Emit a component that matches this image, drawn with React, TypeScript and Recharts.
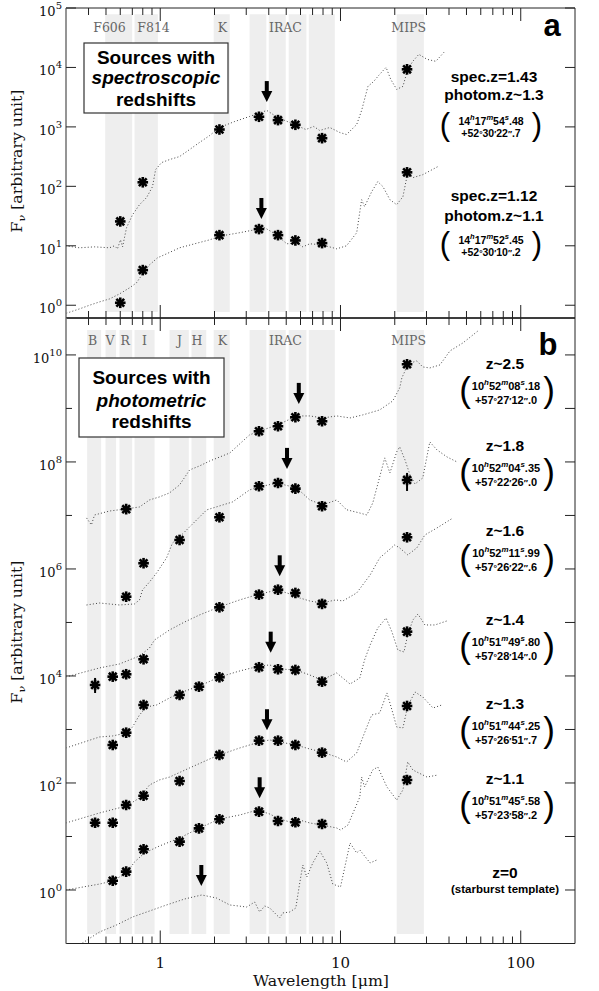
import React from "react";
import { ComposedChart, Line, Scatter, XAxis, YAxis, ReferenceArea, ErrorBar } from "recharts";

// ---------------- axis ticks ----------------
const wavelengthTicks = [0.4, 0.5, 0.6, 0.7, 0.8, 0.9, 1, 2, 3, 4, 5, 6, 7, 8, 9, 10, 20, 30, 40, 50, 60, 70, 80, 90, 100];
const wavelengthMajor = [1, 10, 100];
const fluxTicksA = [1, 10, 100, 1e3, 1e4, 1e5];
const fluxTicksB = [1, 10, 100, 1e3, 1e4, 1e5, 1e6, 1e7, 1e8, 1e9, 1e10];

// ---------------- filter bands (micron) ----------------
const bandsA = [[0.495, 0.699], [0.72, 0.97], [1.98, 2.43], [3.13, 3.88], [4.0, 4.97], [5.16, 6.47], [6.67, 9.3], [20.5, 29]];
const bandsB = [[0.393, 0.47], [0.497, 0.569], [0.594, 0.699], [0.72, 0.93], [1.126, 1.44], [1.49, 1.8], [1.98, 2.43], [3.13, 3.88], [4.0, 4.97], [5.16, 6.47], [6.67, 9.3], [20.5, 29]];
const bandNamesA = ["F606", "F814", "K", "IRAC", "MIPS"];
const bandNameXA = [0.523, 0.918, 2.21, 4.95, 23.9];
const bandNamesB = ["B", "V", "R", "I", "J", "H", "K", "IRAC", "MIPS"];
const bandNameXB = [0.422, 0.526, 0.639, 0.818, 1.28, 1.6, 2.21, 4.95, 23.9];

// ---------------- panel a : spectroscopic redshifts ----------------
const specHighCurve = [[0.298,10.0],[0.356,9.25],[0.432,9.6],[0.523,9.25],[0.557,10.0],[0.579,8.9],[0.602,12.6],[0.618,9.6],[0.65,20.1],[0.702,33.3],[0.767,49.1],[0.839,64.5],[0.906,98.9],[0.942,191],[1.017,251],[1.126,282],[1.28,317],[1.455,416],[1.65,546],[1.88,716],[2.13,977],[2.59,1233],[3.13,1497],[3.9,1891],[4.31,1556],[4.91,1282],[5.72,1056],[6.42,904],[7.11,1016],[7.67,870],[8.72,977],[9.91,805],[10.8,744],[12.3,1097],[13.1,1891],[14.2,4800],[15.3,5830],[16.3,7360],[17.9,10040],[19.0,6300],[20.5,4280],[22.2,4800],[23.6,9290],[25.2,12680],[27.2,16630],[30.2,13700],[33.8,12680],[37.5,17980]];
const specLowCurve = [[0.301,0.733],[0.356,0.867],[0.405,1.0],[0.46,1.137],[0.523,1.277],[0.594,1.55],[0.675,1.96],[0.738,2.38],[0.798,3.37],[0.872,4.78],[0.966,6.28],[1.084,7.33],[1.28,9.25],[1.55,10.8],[1.88,12.6],[2.19,14.7],[2.76,16.6],[3.34,18.6],[3.8,20.1],[4.43,15.3],[5.03,10.8],[5.72,11.2],[6.18,9.6],[6.75,10.8],[7.87,10.4],[9.53,8.9],[10.8,10],[12.3,16.6],[13.1,59.7],[13.6,45.5],[14.9,81.4],[16.1,120],[17.2,98.9],[18.8,59.7],[20.5,49.1],[22.2,67],[23.6,170],[25.2,140],[28.6,157],[34.7,215]];
const specHighPhot = [[0.6,25.7],[0.8,117],[2.13,904],[3.53,1480],[4.5,1300],[5.62,1085],[7.9,646],[23.4,9300]];
const specLowPhot = [[0.6,1.1],[0.8,3.9],[2.13,15.1],[3.53,19.1],[4.5,15.1],[5.62,12.3],[7.9,11.1],[23.4,172]];
const specArrows = [[3.9,5900],[3.64,63.7]];

// ---------------- panel b : photometric redshifts ----------------
const z25Curve = [[0.39,8.98e6],[0.415,6.64e6],[0.432,1.02e7],[0.523,1.21e7],[0.641,1.32e7],[0.767,1.44e7],[0.872,1.95e7],[0.99,2.22e7],[1.126,2.64e7],[1.28,3.72e7],[1.455,7.08e7],[1.65,8.41e7],[1.88,1.04e8],[2.43,1.47e8],[3.13,3.2e8],[3.56,3.79e8],[4.48,4.92e8],[5.72,7.24e8],[6.75,7.24e8],[7.98,6.64e8],[9.53,7.24e8],[11.3,6.64e8],[13.3,7.57e8],[16.5,9.38e8],[19.5,1.38e9],[21.3,2.42e9],[21.9,3.72e9],[22.8,5.02e9],[23.6,6.79e9],[26.5,7.73e9],[28.6,5.97e9],[31.3,5.71e9],[35.6,6.5e9],[40.5,1.19e10],[47.8,1.68e10],[57.9,2.81e10]];
const z18Curve = [[0.39,2.12e5],[0.46,2.31e5],[0.594,2.12e5],[0.72,2.22e5],[0.767,2.64e5],[0.797,4.05e5],[0.872,5.71e5],[0.954,8.41e5],[1.084,1.61e6],[1.169,3.06e6],[1.28,3.96e6],[1.4,5.36e6],[1.81,1.27e7],[2.52,1.79e7],[3.13,3.0e7],[3.56,3.41e7],[4.43,4.05e7],[5.72,3.27e7],[6.75,1.95e7],[7.98,1.57e7],[9.53,1.95e7],[10.8,1.28e7],[12.8,1.11e7],[14.0,1.02e7],[15.1,1.71e7],[16.5,5.25e7],[17.6,1.19e8],[18.8,6.23e7],[20.5,1.54e8],[21.3,1.91e8],[22.8,1.09e8],[24.3,5.71e7],[25.9,3.88e7],[28.6,5.02e7],[31.3,2.37e8],[34.3,1.68e8],[39.0,1.24e8],[44.3,1.0e8]];
const z16Curve = [[0.3,9570],[0.38,11880],[0.46,14120],[0.594,16760],[0.767,23650],[0.872,33360],[0.93,47100],[1.126,72400],[1.365,1.02e5],[1.65,1.38e5],[2.13,1.95e5],[2.76,2.64e5],[3.56,3.41e5],[4.49,4.05e5],[5.23,3.41e5],[5.94,2.87e5],[6.75,2.52e5],[7.87,2.31e5],[9.41,2.64e5],[10.3,2.52e5],[12.3,3.56e5],[14.6,7.73e5],[16.5,1.61e6],[18.3,2.17e6],[20.0,2.81e6],[21.3,2.47e6],[23.6,1.83e6],[26.5,2.47e6],[29.4,4.32e6],[34.3,5.84e6],[42.1,8.98e6]];
const z14Curve = [[0.3,451],[0.46,724],[0.543,756],[0.65,860],[0.702,1114],[0.767,1866],[0.839,2634],[0.954,2870],[1.126,3880],[1.28,4810],[1.65,6500],[2.13,9570],[2.76,12400],[3.56,15380],[4.05,16070],[4.6,13520],[5.65,12950],[6.75,10440],[7.87,8410],[9.53,11380],[11.3,7080],[12.8,9180],[13.6,19910],[14.6,37950],[16.1,78900],[17.9,1.21e5],[19.3,66400],[20.8,30620],[22.5,28100],[23.6,58400],[25.2,1.11e5],[26.9,1.44e5],[29.4,89800],[33.4,89800],[39.0,1.07e5]];
const z13Curve = [[0.3,17.9],[0.46,27.5],[0.65,37.2],[0.767,52.5],[0.872,91.8],[0.99,114],[1.126,129],[1.455,191],[1.88,281],[2.13,334],[2.76,451],[3.56,584],[4.05,637],[4.6,584],[5.65,513],[6.75,432],[7.87,380],[9.53,306],[10.8,247],[12.3,364],[14.0,1114],[14.9,1866],[16.5,2034],[18.1,4810],[19.3,2314],[20.5,1114],[22.2,1067],[23.6,2750],[25.9,5020],[28.6,4050],[32.6,2520],[36.5,2870]];
const z11Curve = [[0.3,1.0],[0.46,1.29],[0.543,1.47],[0.65,2.08],[0.72,3.34],[0.818,4.92],[0.99,6.64],[1.28,9.38],[1.65,14.4],[2.13,21.2],[2.76,25.2],[3.47,31.3],[4.05,26.3],[4.6,21.2],[5.23,18.7],[5.94,20.3],[6.75,17.9],[7.87,16.4],[9.53,14.4],[10.0,13.2],[11.0,16.4],[12.8,54.7],[13.1,129],[13.6,84.2],[15.1,175],[16.1,199],[18.1,84.2],[20.5,48.1],[22.2,74.0],[23.6,247],[25.2,175],[30.2,129],[34.7,141]];
const z0Curve = [[0.37,0.102],[0.46,0.164],[0.572,0.222],[0.702,0.313],[0.872,0.405],[1.084,0.525],[1.365,0.679],[1.7,0.807],[2.05,0.708],[2.43,0.525],[3.02,0.481],[3.34,0.597],[3.56,0.388],[3.8,0.502],[4.05,0.461],[4.6,0.3],[4.78,0.372],[5.23,0.388],[5.65,0.461],[5.94,1.35],[6.18,2.93],[6.5,1.75],[7.02,3.2],[7.67,5.36],[8.39,3.2],[9.06,1.29],[10.0,1.14],[11.3,7.56],[12.3,4.92],[12.8,5.59],[14.6,3.2],[15.9,3.64]];

const z25Phot = [[0.647,1.31e7],[3.53,3.75e8],[4.5,4.65e8],[5.62,6.84e8],[7.9,5.77e8],[23.4,6.7e9]];
const z18Phot = [[0.647,3.03e5],[0.808,1.28e6],[1.28,3.48e6],[2.13,9.25e6],[3.53,3.51e7],[4.5,4.05e7],[5.62,3.17e7],[7.9,1.49e7]];
const z16Phot = [[0.545,9710],[0.647,10770],[0.808,20500],[2.13,1.92e5],[3.53,3.31e5],[4.5,4.1e5],[5.62,3.56e5],[7.9,2.22e5],[23.4,3.91e6]];
const z14Phot = [[0.545,513],[0.647,871],[0.808,2870],[1.28,4415],[1.64,6310],[2.13,9460],[3.53,14550],[4.5,13340],[5.62,12950],[7.9,7830],[23.4,67300]];
const z13Phot = [[0.435,18.1],[0.545,18.1],[0.647,38.8],[0.808,57.9],[1.28,109],[2.13,334],[3.53,618],[4.5,618],[5.62,513],[7.9,369],[23.4,2750]];
const z11Phot = [[0.545,1.49],[0.647,2.2],[0.808,5.76],[1.28,8.0],[1.64,14.2],[2.13,21.0],[3.53,29.1],[4.5,19.5],[5.62,18.4],[7.9,17.1],[23.4,114]];
// points with error bars: [wavelength, flux, minus, plus]
const photWithErr = [[23.4,4.61e7,1.74e7,1.62e7],[0.435,6790,1980,2390]];
const photArrows = [[5.87,3.0e9],[5.05,1.83e8],[4.6,1.8e6],[4.1,67300],[3.91,2390],[3.56,128],[1.69,2.93]];

// ---------------- text annotations ----------------
const specTitles = [["spec.z=1.43", "photom.z~1.3"], ["spec.z=1.12", "photom.z~1.1"]];
const specRA = [["14", "17", "54", "48"], ["14", "17", "52", "45"]];
const specDec = [["+52", "30", "22", "7"], ["+52", "30", "10", "2"]];
const photTitles = ["z~2.5", "z~1.8", "z~1.6", "z~1.4", "z~1.3", "z~1.1"];
const photRA = [["10","52","08","18"],["10","52","04","35"],["10","52","11","99"],["10","51","49","80"],["10","51","44","25"],["10","51","45","58"]];
const photDec = [["+57","27","12","0"],["+57","22","26","0"],["+57","26","22","6"],["+57","28","14","0"],["+57","26","51","7"],["+57","23","58","2"]];

// ---------------- layout (pixels) ----------------
const W = 599;
const SANS = "'Liberation Sans', Arial, Helvetica, sans-serif";
const SERIF = "'DejaVu Serif', serif";
const specBlockY = [76, 195];
const photBlockY = [363.3, 445, 530.5, 619, 703.3, 778.3];

const toPts = (a: number[][]) => a.map(([x, y]) => ({ x, y }));

const StarShape = (p: any) => {
  const { cx, cy } = p;
  if (!Number.isFinite(cx) || !Number.isFinite(cy)) return <g />;
  const r = 5.3, d = 3.9;
  return (
    <g stroke="#000" strokeWidth={2.6}>
      <line x1={cx - r} y1={cy} x2={cx + r} y2={cy} />
      <line x1={cx} y1={cy - r} x2={cx} y2={cy + r} />
      <line x1={cx - d} y1={cy - d} x2={cx + d} y2={cy + d} />
      <line x1={cx - d} y1={cy + d} x2={cx + d} y2={cy - d} />
    </g>
  );
};

const ArrowShape = (p: any) => {
  const { cx, cy } = p;
  if (!Number.isFinite(cx) || !Number.isFinite(cy)) return <g />;
  return (
    <g fill="#000">
      <rect x={cx - 2} y={cy} width={4} height={11} />
      <polygon points={`${cx - 5.5},${cy + 10} ${cx + 5.5},${cy + 10} ${cx},${cy + 21}`} />
    </g>
  );
};

const LabelShape = (p: any) => {
  const { cx, cy, payload } = p;
  if (!Number.isFinite(cx) || !Number.isFinite(cy)) return <g />;
  return (
    <text x={cx} y={cy} textAnchor="middle" dominantBaseline="central" fontFamily={SERIF} fontSize={12.5} fill="#666">
      {payload.label}
    </text>
  );
};

const mkXTick = (dir: number, showLabel: boolean) => (props: any) => {
  const { x, y, payload } = props;
  const v = payload.value;
  const major = wavelengthMajor.includes(v);
  const len = major ? 13 : 7;
  return (
    <g>
      <line x1={x} x2={x} y1={y} y2={y + dir * len} stroke="#222" strokeWidth={1} />
      {showLabel && major ? (
        <text x={x} y={y + 24.5} textAnchor="middle" fontFamily={SERIF} fontSize={15} fill="#111">{v}</text>
      ) : null}
    </g>
  );
};

const mkYTickLeft = (every: number) => (props: any) => {
  const { x, y, payload } = props;
  const e = Math.round(Math.log10(payload.value));
  const lab = e % every === 0;
  const len = lab ? 10 : 6;
  return (
    <g>
      <line x1={x} x2={x + len} y1={y} y2={y} stroke="#222" strokeWidth={1} />
      {lab ? (
        <text x={x - 4} y={y + 8} textAnchor="end" fontFamily={SERIF} fontSize={13} fill="#111">
          10<tspan fontSize={10} dy={-7}>{e}</tspan>
        </text>
      ) : null}
    </g>
  );
};

const YTickRight = (props: any) => {
  const { x, y } = props;
  return <line x1={x} x2={x - 10} y1={y} y2={y} stroke="#222" strokeWidth={1} />;
};

function Panel(props: any) {
  const { height, margin, yDomain, yTicks, every, bands, bandY, names, nameX, nameY, curves, phots, errPts, arrows, showXLabels } = props;
  const labelData = names.map((n: string, i: number) => ({ x: nameX[i], y: nameY, label: n }));
  return (
    <ComposedChart width={W} height={height} margin={margin}>
      <XAxis xAxisId="b" type="number" dataKey="x" scale="log" domain={[0.3, 200]} allowDataOverflow ticks={wavelengthTicks} interval={0}
        height={1} tickSize={0} tickMargin={0} tickLine={false} orientation="bottom" axisLine={{ stroke: "#222" }} tick={mkXTick(-1, showXLabels)} />
      <XAxis xAxisId="t" type="number" dataKey="x" scale="log" domain={[0.3, 200]} allowDataOverflow ticks={wavelengthTicks} interval={0}
        height={1} tickSize={0} tickMargin={0} tickLine={false} orientation="top" axisLine={false} tick={mkXTick(1, false)} />
      <YAxis yAxisId="l" type="number" dataKey="y" scale="log" domain={yDomain} allowDataOverflow ticks={yTicks} interval={0}
        width={1} tickSize={0} tickMargin={0} tickLine={false} orientation="left" axisLine={{ stroke: "#999" }} tick={mkYTickLeft(every)} />
      <YAxis yAxisId="r" type="number" dataKey="y" scale="log" domain={yDomain} allowDataOverflow ticks={yTicks} interval={0}
        width={1} tickSize={0} tickMargin={0} tickLine={false} orientation="right" axisLine={false} tick={YTickRight} />
      {bands.map((b: number[], i: number) => (
        <ReferenceArea key={"band" + i} xAxisId="b" yAxisId="l" x1={b[0]} x2={b[1]} y1={bandY[0]} y2={bandY[1]} fill="#eeeeee" fillOpacity={1} stroke="none" />
      ))}
      {/* frame: top and right edges of the panel */}
      <ReferenceArea xAxisId="b" yAxisId="l" x1={0.3} x2={200} y1={yDomain[0]} y2={yDomain[1]} fill="none" stroke="#222" strokeWidth={1} ifOverflow="visible" />
      <Scatter data={labelData} dataKey="y" xAxisId="b" yAxisId="l" shape={LabelShape} isAnimationActive={false} />
      {curves.map((c: number[][], i: number) => (
        <Line key={"curve" + i} data={toPts(c)} dataKey="y" xAxisId="b" yAxisId="l" type="linear" stroke="#444" strokeWidth={1}
          strokeDasharray="1 2.2" dot={false} activeDot={false} isAnimationActive={false} />
      ))}
      {phots.map((c: number[][], i: number) => (
        <Scatter key={"phot" + i} data={toPts(c)} dataKey="y" xAxisId="b" yAxisId="l" shape={StarShape} isAnimationActive={false} />
      ))}
      {errPts.length ? (
        <Scatter data={errPts.map((r: number[]) => ({ x: r[0], y: r[1], err: [r[2], r[3]] }))} dataKey="y" xAxisId="b" yAxisId="l" shape={StarShape} isAnimationActive={false}>
          <ErrorBar dataKey="err" direction="y" width={0} stroke="#000" strokeWidth={2} />
        </Scatter>
      ) : null}
      <Scatter data={toPts(arrows)} dataKey="y" xAxisId="b" yAxisId="l" shape={ArrowShape} isAnimationActive={false} />
    </ComposedChart>
  );
}

function Coords({ x, y, ra, dec, fs, gap }: any) {
  const s = fs * 0.72;
  const up = fs * 0.42;
  return (
    <g fontFamily={SANS} fontWeight="bold" fontSize={fs} fill="#000">
      <text x={x} y={y} textAnchor="middle">
        {ra[0]}<tspan fontSize={s} fontStyle="italic" dy={-up}>h</tspan><tspan dy={up}>{ra[1]}</tspan><tspan fontSize={s} fontStyle="italic" dy={-up}>m</tspan><tspan dy={up}>{ra[2]}</tspan><tspan fontSize={s} fontStyle="italic" dy={-up}>s</tspan><tspan dy={up}>.{ra[3]}</tspan>
      </text>
      <text x={x} y={y + gap} textAnchor="middle">
        {dec[0]}<tspan fontSize={fs * 0.8}>°</tspan>{dec[1]}<tspan fontSize={fs * 0.8}>′</tspan>{dec[2]}<tspan fontSize={fs * 0.8}>″</tspan>.{dec[3]}
      </text>
    </g>
  );
}

function Parens({ xl, xr, yc, fs }: any) {
  const base = yc + fs * 0.26;
  return (
    <g fontFamily={SANS} fontSize={fs} fill="#000" textAnchor="middle">
      <text x={xl} y={base}>(</text>
      <text x={xr} y={base}>)</text>
    </g>
  );
}

function Overlay() {
  return (
    <svg width={W} height={991} style={{ position: "absolute", left: 0, top: 0, pointerEvents: "none" }}>
      {/* axis titles */}
      <text transform="translate(22,161) rotate(-90)" textAnchor="middle" fontFamily={SERIF} fontSize={14} fill="#111" textLength={143} lengthAdjust="spacingAndGlyphs">
        F<tspan fontSize={10} dy={3}>ν</tspan><tspan dy={-3}> [arbitrary unit]</tspan>
      </text>
      <text transform="translate(22,632) rotate(-90)" textAnchor="middle" fontFamily={SERIF} fontSize={14} fill="#111" textLength={143} lengthAdjust="spacingAndGlyphs">
        F<tspan fontSize={10} dy={3}>ν</tspan><tspan dy={-3}> [arbitrary unit]</tspan>
      </text>
      <text x={321} y={986} textAnchor="middle" fontFamily={SERIF} fontSize={14} fill="#111" textLength={136} lengthAdjust="spacingAndGlyphs">
        Wavelength [μm]
      </text>

      {/* legend boxes */}
      <rect x={84} y={43} width={144} height={70} fill="#fff" stroke="#333" strokeWidth={1.2} />
      <g fontFamily={SANS} fontWeight="bold" fontSize={19} fill="#000" textAnchor="middle">
        <text x={156} y={63.5}>Sources with</text>
        <text x={156} y={84} fontStyle="italic">spectroscopic</text>
        <text x={156} y={106}>redshifts</text>
      </g>
      <rect x={79} y={358} width={145} height={79} fill="#fff" stroke="#333" strokeWidth={1.2} />
      <g fontFamily={SANS} fontWeight="bold" fontSize={19} fill="#000" textAnchor="middle">
        <text x={151.5} y={384}>Sources with</text>
        <text x={151.5} y={406.5} fontStyle="italic">photometric</text>
        <text x={151.5} y={427.5}>redshifts</text>
      </g>

      {/* panel letters */}
      <text x={552} y={36} textAnchor="middle" fontFamily={SANS} fontWeight="bold" fontSize={31}>a</text>
      <text x={548} y={355} textAnchor="middle" fontFamily={SANS} fontWeight="bold" fontSize={31}>b</text>

      {/* panel a annotations */}
      {specTitles.map((t, i) => {
        const y0 = specBlockY[i];
        return (
          <g key={"sa" + i}>
            <g fontFamily={SANS} fontWeight="bold" fontSize={15.5} textAnchor="middle" fill="#000">
              <text x={494} y={y0 + 5.6}>{t[0]}</text>
              <text x={494} y={y0 + 5.6 + (i === 0 ? 18 : 20)}>{t[1]}</text>
            </g>
            <Coords x={491} y={y0 + 48.5} ra={specRA[i]} dec={specDec[i]} fs={10.5} gap={12.8} />
            <Parens xl={445} xr={537} yc={y0 + 51} fs={31} />
          </g>
        );
      })}

      {/* panel b annotations */}
      {photTitles.map((t, i) => {
        const y0 = photBlockY[i];
        return (
          <g key={"pa" + i}>
            <text x={505} y={y0 + 5.6} textAnchor="middle" fontFamily={SANS} fontWeight="bold" fontSize={15.5}>{t}</text>
            <Coords x={506} y={y0 + 26.5} ra={photRA[i]} dec={photDec[i]} fs={11} gap={14.2} />
            <Parens xl={465} xr={549} yc={y0 + 30} fs={35} />
          </g>
        );
      })}
      <text x={505} y={878} textAnchor="middle" fontFamily={SANS} fontWeight="bold" fontSize={15.5}>z=0</text>
      <text x={505} y={893} textAnchor="middle" fontFamily={SANS} fontWeight="bold" fontSize={11.5}>(starburst template)</text>
    </svg>
  );
}

export default function App() {
  return (
    <div style={{ position: "absolute", left: 0, top: 0, width: W, height: 991, background: "#fff" }}>
      <div style={{ position: "absolute", left: 0, top: 0 }}>
        <Panel
          height={319}
          margin={{ top: 7, right: 23, bottom: 0, left: 65 }}
          yDomain={[0.61, 1e5]}
          yTicks={fluxTicksA}
          every={1}
          bands={bandsA}
          bandY={[0.77, 7.85e4]}
          names={bandNamesA}
          nameX={bandNameXA}
          nameY={4.74e4}
          curves={[specHighCurve, specLowCurve]}
          phots={[specHighPhot, specLowPhot]}
          errPts={[]}
          arrows={specArrows}
          showXLabels={false}
        />
      </div>
      <div style={{ position: "absolute", left: 0, top: 317 }}>
        <Panel
          height={674}
          margin={{ top: 0, right: 23, bottom: 46.5, left: 65 }}
          yDomain={[0.1, 4.9e10]}
          yTicks={fluxTicksB}
          every={2}
          bands={bandsB}
          bandY={[0.151, 2.93e10]}
          names={bandNamesB}
          nameX={bandNameXB}
          nameY={1.83e10}
          curves={[z25Curve, z18Curve, z16Curve, z14Curve, z13Curve, z11Curve, z0Curve]}
          phots={[z25Phot, z18Phot, z16Phot, z14Phot, z13Phot, z11Phot]}
          errPts={photWithErr}
          arrows={photArrows}
          showXLabels={true}
        />
      </div>
      <Overlay />
    </div>
  );
}
